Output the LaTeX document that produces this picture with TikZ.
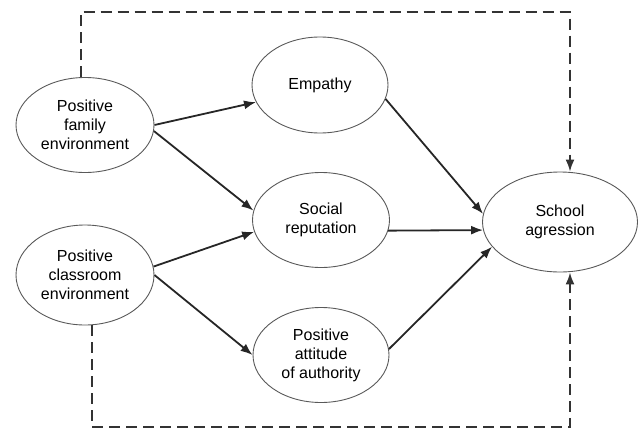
\documentclass[tikz,border=0pt]{standalone}
\usepackage{fontspec}
\setmainfont{Liberation Sans}
\usetikzlibrary{arrows.meta, shapes.geometric, calc}

\begin{document}
\begin{tikzpicture}[x=1pt, y=-1pt]
            \tikzset{var/.style = {shape=ellipse, draw=black!65, line width=0.9pt, inner sep=0pt, align=center, font=\fontsize{16}{19}\selectfont}}
            \tikzset{edge/.style = {->, > = {Latex[length=12pt,width=9pt]}, line width=1.8pt, draw=black!85}}
            \tikzset{direct/.style = {edge, draw=black!80, dash pattern=on 11pt off 6pt}}

            \useasboundingbox (0,0) rectangle (639,431);

            \node[var, minimum width=138, minimum height=95] (fam) at (85, 125) {Positive\\family\\environment};
            \node[var, minimum width=138, minimum height=100] (cls) at (85, 275) {Positive\\classroom\\environment};

            \node[var, minimum width=136, minimum height=96] (emp) at (320, 85) {Empathy};
            \node[var, minimum width=137, minimum height=95] (soc) at (321, 220) {Social\\reputation};
            \node[var, minimum width=136, minimum height=95] (att) at (321, 355) {Positive\\attitude\\of authority};

            \node[var, minimum width=155, minimum height=100] (sch) at (560, 222) {School\\agression};

            \coordinate (ne) at (570, 12);
            \coordinate (se) at (570, 427);

            \draw[edge] (fam.east) to (emp.195);
            \draw[edge] (fam.-5) to (soc.172);
            \draw[edge] (cls.7) to (soc.190);
            \draw[edge] (cls.east) to (att.west);

            \draw[edge] (emp.-12) to (sch.174);
            \draw[edge] (soc.-9) to (sch.186);
            \draw[edge] (att.5) to (sch.200);

            \draw[direct] (fam.95) |- (ne) -- (ne |- sch.north);
            \draw[direct] (cls.-82) |- (se) -- (se |- sch.south);
          \end{tikzpicture}
\end{document}
